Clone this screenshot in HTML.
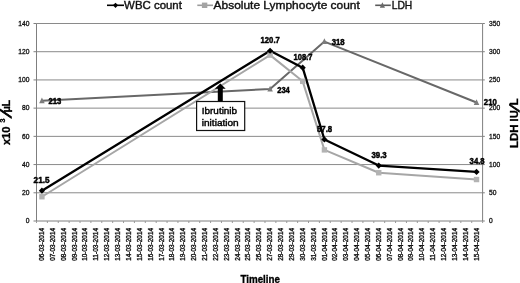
<!DOCTYPE html>
<html><head><meta charset="utf-8"><title>chart</title>
<style>html,body{margin:0;padding:0;background:#fff}body{width:520px;height:283px;overflow:hidden}</style></head>
<body>
<svg width="520" height="283" viewBox="0 0 520 283" style="display:block">
<rect width="520" height="283" fill="#fff"/>
<line x1="36.5" x2="482.6" y1="192.79" y2="192.79" stroke="#8a8a8a" stroke-width="1"/>
<line x1="36.5" x2="482.6" y1="164.57" y2="164.57" stroke="#8a8a8a" stroke-width="1"/>
<line x1="36.5" x2="482.6" y1="136.36" y2="136.36" stroke="#8a8a8a" stroke-width="1"/>
<line x1="36.5" x2="482.6" y1="108.14" y2="108.14" stroke="#8a8a8a" stroke-width="1"/>
<line x1="36.5" x2="482.6" y1="79.93" y2="79.93" stroke="#8a8a8a" stroke-width="1"/>
<line x1="36.5" x2="482.6" y1="51.71" y2="51.71" stroke="#8a8a8a" stroke-width="1"/>
<line x1="36.5" x2="482.6" y1="23.50" y2="23.50" stroke="#8a8a8a" stroke-width="1"/>
<line x1="36.5" x2="36.5" y1="23.5" y2="221.0" stroke="#7f7f7f" stroke-width="1"/>
<line x1="482.6" x2="482.6" y1="23.5" y2="221.0" stroke="#7f7f7f" stroke-width="1"/>
<line x1="36.5" x2="482.6" y1="221.0" y2="221.0" stroke="#7f7f7f" stroke-width="1"/>
<line x1="33.5" x2="36.5" y1="221.00" y2="221.00" stroke="#7f7f7f" stroke-width="1"/>
<line x1="482.6" x2="484.8" y1="221.00" y2="221.00" stroke="#7f7f7f" stroke-width="1"/>
<line x1="33.5" x2="36.5" y1="192.79" y2="192.79" stroke="#7f7f7f" stroke-width="1"/>
<line x1="482.6" x2="484.8" y1="192.79" y2="192.79" stroke="#7f7f7f" stroke-width="1"/>
<line x1="33.5" x2="36.5" y1="164.57" y2="164.57" stroke="#7f7f7f" stroke-width="1"/>
<line x1="482.6" x2="484.8" y1="164.57" y2="164.57" stroke="#7f7f7f" stroke-width="1"/>
<line x1="33.5" x2="36.5" y1="136.36" y2="136.36" stroke="#7f7f7f" stroke-width="1"/>
<line x1="482.6" x2="484.8" y1="136.36" y2="136.36" stroke="#7f7f7f" stroke-width="1"/>
<line x1="33.5" x2="36.5" y1="108.14" y2="108.14" stroke="#7f7f7f" stroke-width="1"/>
<line x1="482.6" x2="484.8" y1="108.14" y2="108.14" stroke="#7f7f7f" stroke-width="1"/>
<line x1="33.5" x2="36.5" y1="79.93" y2="79.93" stroke="#7f7f7f" stroke-width="1"/>
<line x1="482.6" x2="484.8" y1="79.93" y2="79.93" stroke="#7f7f7f" stroke-width="1"/>
<line x1="33.5" x2="36.5" y1="51.71" y2="51.71" stroke="#7f7f7f" stroke-width="1"/>
<line x1="482.6" x2="484.8" y1="51.71" y2="51.71" stroke="#7f7f7f" stroke-width="1"/>
<line x1="33.5" x2="36.5" y1="23.50" y2="23.50" stroke="#7f7f7f" stroke-width="1"/>
<line x1="482.6" x2="484.8" y1="23.50" y2="23.50" stroke="#7f7f7f" stroke-width="1"/>
<line x1="36.50" x2="36.50" y1="221.0" y2="223.0" stroke="#999" stroke-width="1"/>
<line x1="47.38" x2="47.38" y1="221.0" y2="223.0" stroke="#999" stroke-width="1"/>
<line x1="58.26" x2="58.26" y1="221.0" y2="223.0" stroke="#999" stroke-width="1"/>
<line x1="69.14" x2="69.14" y1="221.0" y2="223.0" stroke="#999" stroke-width="1"/>
<line x1="80.02" x2="80.02" y1="221.0" y2="223.0" stroke="#999" stroke-width="1"/>
<line x1="90.90" x2="90.90" y1="221.0" y2="223.0" stroke="#999" stroke-width="1"/>
<line x1="101.78" x2="101.78" y1="221.0" y2="223.0" stroke="#999" stroke-width="1"/>
<line x1="112.66" x2="112.66" y1="221.0" y2="223.0" stroke="#999" stroke-width="1"/>
<line x1="123.54" x2="123.54" y1="221.0" y2="223.0" stroke="#999" stroke-width="1"/>
<line x1="134.42" x2="134.42" y1="221.0" y2="223.0" stroke="#999" stroke-width="1"/>
<line x1="145.30" x2="145.30" y1="221.0" y2="223.0" stroke="#999" stroke-width="1"/>
<line x1="156.19" x2="156.19" y1="221.0" y2="223.0" stroke="#999" stroke-width="1"/>
<line x1="167.07" x2="167.07" y1="221.0" y2="223.0" stroke="#999" stroke-width="1"/>
<line x1="177.95" x2="177.95" y1="221.0" y2="223.0" stroke="#999" stroke-width="1"/>
<line x1="188.83" x2="188.83" y1="221.0" y2="223.0" stroke="#999" stroke-width="1"/>
<line x1="199.71" x2="199.71" y1="221.0" y2="223.0" stroke="#999" stroke-width="1"/>
<line x1="210.59" x2="210.59" y1="221.0" y2="223.0" stroke="#999" stroke-width="1"/>
<line x1="221.47" x2="221.47" y1="221.0" y2="223.0" stroke="#999" stroke-width="1"/>
<line x1="232.35" x2="232.35" y1="221.0" y2="223.0" stroke="#999" stroke-width="1"/>
<line x1="243.23" x2="243.23" y1="221.0" y2="223.0" stroke="#999" stroke-width="1"/>
<line x1="254.11" x2="254.11" y1="221.0" y2="223.0" stroke="#999" stroke-width="1"/>
<line x1="264.99" x2="264.99" y1="221.0" y2="223.0" stroke="#999" stroke-width="1"/>
<line x1="275.87" x2="275.87" y1="221.0" y2="223.0" stroke="#999" stroke-width="1"/>
<line x1="286.75" x2="286.75" y1="221.0" y2="223.0" stroke="#999" stroke-width="1"/>
<line x1="297.63" x2="297.63" y1="221.0" y2="223.0" stroke="#999" stroke-width="1"/>
<line x1="308.51" x2="308.51" y1="221.0" y2="223.0" stroke="#999" stroke-width="1"/>
<line x1="319.39" x2="319.39" y1="221.0" y2="223.0" stroke="#999" stroke-width="1"/>
<line x1="330.27" x2="330.27" y1="221.0" y2="223.0" stroke="#999" stroke-width="1"/>
<line x1="341.15" x2="341.15" y1="221.0" y2="223.0" stroke="#999" stroke-width="1"/>
<line x1="352.03" x2="352.03" y1="221.0" y2="223.0" stroke="#999" stroke-width="1"/>
<line x1="362.91" x2="362.91" y1="221.0" y2="223.0" stroke="#999" stroke-width="1"/>
<line x1="373.80" x2="373.80" y1="221.0" y2="223.0" stroke="#999" stroke-width="1"/>
<line x1="384.68" x2="384.68" y1="221.0" y2="223.0" stroke="#999" stroke-width="1"/>
<line x1="395.56" x2="395.56" y1="221.0" y2="223.0" stroke="#999" stroke-width="1"/>
<line x1="406.44" x2="406.44" y1="221.0" y2="223.0" stroke="#999" stroke-width="1"/>
<line x1="417.32" x2="417.32" y1="221.0" y2="223.0" stroke="#999" stroke-width="1"/>
<line x1="428.20" x2="428.20" y1="221.0" y2="223.0" stroke="#999" stroke-width="1"/>
<line x1="439.08" x2="439.08" y1="221.0" y2="223.0" stroke="#999" stroke-width="1"/>
<line x1="449.96" x2="449.96" y1="221.0" y2="223.0" stroke="#999" stroke-width="1"/>
<line x1="460.84" x2="460.84" y1="221.0" y2="223.0" stroke="#999" stroke-width="1"/>
<line x1="471.72" x2="471.72" y1="221.0" y2="223.0" stroke="#999" stroke-width="1"/>
<line x1="482.60" x2="482.60" y1="221.0" y2="223.0" stroke="#999" stroke-width="1"/>
<g font-family="Liberation Sans, sans-serif" font-size="6.7" fill="#111" stroke="#111" stroke-width="0.3">
<text x="29.4" y="223.20" text-anchor="end">0</text>
<text x="489" y="223.20">0</text>
<text x="29.4" y="194.99" text-anchor="end">20</text>
<text x="489" y="194.99">50</text>
<text x="29.4" y="166.77" text-anchor="end">40</text>
<text x="489" y="166.77">100</text>
<text x="29.4" y="138.56" text-anchor="end">60</text>
<text x="489" y="138.56">150</text>
<text x="29.4" y="110.34" text-anchor="end">80</text>
<text x="489" y="110.34">200</text>
<text x="29.4" y="82.13" text-anchor="end">100</text>
<text x="489" y="82.13">250</text>
<text x="29.4" y="53.91" text-anchor="end">120</text>
<text x="489" y="53.91">300</text>
<text x="29.4" y="25.70" text-anchor="end">140</text>
<text x="489" y="25.70">350</text>
</g>
<g font-family="Liberation Sans, sans-serif" font-size="6.3" fill="#111" stroke="#111" stroke-width="0.35">
<text transform="translate(44.03,260.8) rotate(-90)" textLength="32.9" lengthAdjust="spacingAndGlyphs">06-03-2014</text>
<text transform="translate(54.90,260.8) rotate(-90)" textLength="32.9" lengthAdjust="spacingAndGlyphs">07-03-2014</text>
<text transform="translate(65.76,260.8) rotate(-90)" textLength="32.9" lengthAdjust="spacingAndGlyphs">08-03-2014</text>
<text transform="translate(76.63,260.8) rotate(-90)" textLength="32.9" lengthAdjust="spacingAndGlyphs">09-03-2014</text>
<text transform="translate(87.49,260.8) rotate(-90)" textLength="32.9" lengthAdjust="spacingAndGlyphs">10-03-2014</text>
<text transform="translate(98.36,260.8) rotate(-90)" textLength="32.9" lengthAdjust="spacingAndGlyphs">11-03-2014</text>
<text transform="translate(109.22,260.8) rotate(-90)" textLength="32.9" lengthAdjust="spacingAndGlyphs">12-03-2014</text>
<text transform="translate(120.09,260.8) rotate(-90)" textLength="32.9" lengthAdjust="spacingAndGlyphs">13-03-2014</text>
<text transform="translate(130.95,260.8) rotate(-90)" textLength="32.9" lengthAdjust="spacingAndGlyphs">14-03-2014</text>
<text transform="translate(141.82,260.8) rotate(-90)" textLength="32.9" lengthAdjust="spacingAndGlyphs">15-03-2014</text>
<text transform="translate(152.68,260.8) rotate(-90)" textLength="32.9" lengthAdjust="spacingAndGlyphs">16-03-2014</text>
<text transform="translate(163.55,260.8) rotate(-90)" textLength="32.9" lengthAdjust="spacingAndGlyphs">17-03-2014</text>
<text transform="translate(174.41,260.8) rotate(-90)" textLength="32.9" lengthAdjust="spacingAndGlyphs">18-03-2014</text>
<text transform="translate(185.28,260.8) rotate(-90)" textLength="32.9" lengthAdjust="spacingAndGlyphs">19-03-2014</text>
<text transform="translate(196.14,260.8) rotate(-90)" textLength="32.9" lengthAdjust="spacingAndGlyphs">20-03-2014</text>
<text transform="translate(207.01,260.8) rotate(-90)" textLength="32.9" lengthAdjust="spacingAndGlyphs">21-03-2014</text>
<text transform="translate(217.87,260.8) rotate(-90)" textLength="32.9" lengthAdjust="spacingAndGlyphs">22-03-2014</text>
<text transform="translate(228.74,260.8) rotate(-90)" textLength="32.9" lengthAdjust="spacingAndGlyphs">23-03-2014</text>
<text transform="translate(239.60,260.8) rotate(-90)" textLength="32.9" lengthAdjust="spacingAndGlyphs">24-03-2014</text>
<text transform="translate(250.47,260.8) rotate(-90)" textLength="32.9" lengthAdjust="spacingAndGlyphs">25-03-2014</text>
<text transform="translate(261.33,260.8) rotate(-90)" textLength="32.9" lengthAdjust="spacingAndGlyphs">26-03-2014</text>
<text transform="translate(272.20,260.8) rotate(-90)" textLength="32.9" lengthAdjust="spacingAndGlyphs">27-03-2014</text>
<text transform="translate(283.06,260.8) rotate(-90)" textLength="32.9" lengthAdjust="spacingAndGlyphs">28-03-2014</text>
<text transform="translate(293.93,260.8) rotate(-90)" textLength="32.9" lengthAdjust="spacingAndGlyphs">29-03-2014</text>
<text transform="translate(304.79,260.8) rotate(-90)" textLength="32.9" lengthAdjust="spacingAndGlyphs">30-03-2014</text>
<text transform="translate(315.66,260.8) rotate(-90)" textLength="32.9" lengthAdjust="spacingAndGlyphs">31-03-2014</text>
<text transform="translate(326.52,260.8) rotate(-90)" textLength="32.9" lengthAdjust="spacingAndGlyphs">01-04-2014</text>
<text transform="translate(337.39,260.8) rotate(-90)" textLength="32.9" lengthAdjust="spacingAndGlyphs">02-04-2014</text>
<text transform="translate(348.25,260.8) rotate(-90)" textLength="32.9" lengthAdjust="spacingAndGlyphs">03-04-2014</text>
<text transform="translate(359.12,260.8) rotate(-90)" textLength="32.9" lengthAdjust="spacingAndGlyphs">04-04-2014</text>
<text transform="translate(369.98,260.8) rotate(-90)" textLength="32.9" lengthAdjust="spacingAndGlyphs">05-04-2014</text>
<text transform="translate(380.85,260.8) rotate(-90)" textLength="32.9" lengthAdjust="spacingAndGlyphs">06-04-2014</text>
<text transform="translate(391.71,260.8) rotate(-90)" textLength="32.9" lengthAdjust="spacingAndGlyphs">07-04-2014</text>
<text transform="translate(402.58,260.8) rotate(-90)" textLength="32.9" lengthAdjust="spacingAndGlyphs">08-04-2014</text>
<text transform="translate(413.44,260.8) rotate(-90)" textLength="32.9" lengthAdjust="spacingAndGlyphs">09-04-2014</text>
<text transform="translate(424.31,260.8) rotate(-90)" textLength="32.9" lengthAdjust="spacingAndGlyphs">10-04-2014</text>
<text transform="translate(435.17,260.8) rotate(-90)" textLength="32.9" lengthAdjust="spacingAndGlyphs">11-04-2014</text>
<text transform="translate(446.04,260.8) rotate(-90)" textLength="32.9" lengthAdjust="spacingAndGlyphs">12-04-2014</text>
<text transform="translate(456.90,260.8) rotate(-90)" textLength="32.9" lengthAdjust="spacingAndGlyphs">13-04-2014</text>
<text transform="translate(467.77,260.8) rotate(-90)" textLength="32.9" lengthAdjust="spacingAndGlyphs">14-04-2014</text>
<text transform="translate(478.63,260.8) rotate(-90)" textLength="32.9" lengthAdjust="spacingAndGlyphs">15-04-2014</text>
</g>
<polyline points="41.93,100.81 270.10,88.96 324.42,41.56 476.53,102.50" fill="none" stroke="#686868" stroke-width="2" stroke-linejoin="round"/>
<polyline points="41.93,196.74 270.10,55.10 302.69,81.34 324.42,149.90 378.75,172.75 476.53,179.53" fill="none" stroke="#a6a6a6" stroke-width="2" stroke-linejoin="round"/>
<polyline points="41.93,190.67 270.10,50.73 302.69,67.66 324.42,139.46 378.75,165.56 476.53,171.91" fill="none" stroke="#000" stroke-width="2.3" stroke-linejoin="round"/>
<polygon points="41.93,97.51 44.72,103.36 39.14,103.36" fill="#7c7c7c"/>
<polygon points="270.10,85.66 272.89,91.51 267.31,91.51" fill="#7c7c7c"/>
<polygon points="324.42,38.26 327.21,44.11 321.63,44.11" fill="#7c7c7c"/>
<polygon points="476.53,99.20 479.32,105.05 473.74,105.05" fill="#7c7c7c"/>
<rect x="39.23" y="194.04" width="5.4" height="5.4" fill="#b3b3b3"/>
<rect x="267.40" y="52.40" width="5.4" height="5.4" fill="#b3b3b3"/>
<rect x="299.99" y="78.64" width="5.4" height="5.4" fill="#b3b3b3"/>
<rect x="321.72" y="147.20" width="5.4" height="5.4" fill="#b3b3b3"/>
<rect x="376.05" y="170.05" width="5.4" height="5.4" fill="#b3b3b3"/>
<rect x="473.83" y="176.83" width="5.4" height="5.4" fill="#b3b3b3"/>
<polygon points="41.93,187.57 45.03,190.67 41.93,193.77 38.83,190.67" fill="#000"/>
<polygon points="270.10,47.63 273.20,50.73 270.10,53.83 267.00,50.73" fill="#000"/>
<polygon points="302.69,64.56 305.79,67.66 302.69,70.76 299.59,67.66" fill="#000"/>
<polygon points="324.42,136.36 327.52,139.46 324.42,142.56 321.32,139.46" fill="#000"/>
<polygon points="378.75,162.46 381.85,165.56 378.75,168.66 375.65,165.56" fill="#000"/>
<polygon points="476.53,168.81 479.63,171.91 476.53,175.01 473.43,171.91" fill="#000"/>
<g font-family="Liberation Sans, sans-serif" font-size="8.2" font-weight="bold" fill="#000" stroke="#000" stroke-width="0.45">
<text x="33.6" y="182.8" textLength="15.9" lengthAdjust="spacingAndGlyphs">21.5</text>
<text x="260.6" y="42.7" textLength="19.2" lengthAdjust="spacingAndGlyphs">120.7</text>
<text x="293.6" y="59.7" textLength="18.9" lengthAdjust="spacingAndGlyphs">108.7</text>
<text x="317" y="131.8" textLength="15.2" lengthAdjust="spacingAndGlyphs">57.8</text>
<text x="371.4" y="157.8" textLength="15.3" lengthAdjust="spacingAndGlyphs">39.3</text>
<text x="469.6" y="164.1" textLength="15" lengthAdjust="spacingAndGlyphs">34.8</text>
<text x="48.5" y="103.6" textLength="12.8" lengthAdjust="spacingAndGlyphs">213</text>
<text x="277.2" y="92.8" textLength="12.6" lengthAdjust="spacingAndGlyphs">234</text>
<text x="331.7" y="44.5" textLength="13" lengthAdjust="spacingAndGlyphs">318</text>
<text x="483.8" y="105.4" textLength="13" lengthAdjust="spacingAndGlyphs">210</text>
</g>
<polygon points="220.3,83.5 225.7,88.8 222.8,88.8 222.8,101.5 217.8,101.5 217.8,88.8 214.9,88.8" fill="#000"/>
<rect x="196.6" y="101.5" width="48.1" height="29" fill="#fff" stroke="#111" stroke-width="1.2"/>
<g font-family="Liberation Sans, sans-serif" font-size="9.6" fill="#000" stroke="#000" stroke-width="0.42">
<text x="201.8" y="114.1" textLength="35.3" lengthAdjust="spacingAndGlyphs">Ibrutinib</text>
<text x="201.8" y="126" textLength="36.9" lengthAdjust="spacingAndGlyphs">initiation</text>
</g>
<line x1="107" x2="124" y1="5.3" y2="5.3" stroke="#000" stroke-width="1.6"/><polygon points="115.50,2.70 118.10,5.30 115.50,7.90 112.90,5.30" fill="#000"/>
<line x1="197.3" x2="213" y1="5.3" y2="5.3" stroke="#9c9c9c" stroke-width="1.6"/><rect x="201.90" y="2.60" width="5.4" height="5.4" fill="#a4a4a4"/>
<line x1="375.2" x2="390.8" y1="5.3" y2="5.3" stroke="#5a5a5a" stroke-width="1.6"/><polygon points="382.40,2.22 385.00,7.68 379.80,7.68" fill="#6a6a6a"/>
<g font-family="Liberation Sans, sans-serif" font-size="11.5" fill="#111" stroke="#111" stroke-width="0.4">
<text x="124.1" y="9" textLength="57.8" lengthAdjust="spacingAndGlyphs">WBC count</text>
<text x="213.6" y="9" textLength="146.2" lengthAdjust="spacingAndGlyphs">Absolute Lymphocyte count</text>
<text x="391.7" y="9" textLength="20.6" lengthAdjust="spacingAndGlyphs">LDH</text>
</g>
<g font-family="Liberation Sans, sans-serif" font-weight="bold" fill="#000" font-size="10.6">
<g transform="translate(10.2,144.8) rotate(-90)" stroke="#000" stroke-width="0.3">
<text x="-0.3" y="0" font-size="10.8" textLength="18.6" lengthAdjust="spacingAndGlyphs">x10</text>
<text x="22.2" y="-5.2" font-size="6.6" textLength="4" lengthAdjust="spacingAndGlyphs">3</text>
<text transform="translate(26.6,1.2) skewX(-26)" font-size="14.5" stroke-width="0.9">/</text>
<text x="32.4" y="0" font-size="10.6" textLength="6.4" lengthAdjust="spacingAndGlyphs">µ</text>
<text x="38.3" y="0" font-size="10.6" textLength="6.6" lengthAdjust="spacingAndGlyphs">L</text>
</g>
<g transform="translate(517.8,147.2) rotate(-90)" font-size="11.7" stroke="#000" stroke-width="0.3">
<text x="-0.8" y="0" textLength="23.6" lengthAdjust="spacingAndGlyphs">LDH</text>
<text x="25.8" y="0" textLength="11" lengthAdjust="spacingAndGlyphs">IU</text>
<text transform="translate(35.2,0.8) skewX(-26)" font-size="13" stroke-width="0.9">/</text>
<text x="41.6" y="0" textLength="7.2" lengthAdjust="spacingAndGlyphs">L</text>
</g>
<text x="240.4" y="283.2" font-size="11.7" textLength="39.6" lengthAdjust="spacingAndGlyphs" stroke="#000" stroke-width="0.35">Timeline</text>
</g>
</svg>
</body></html>
